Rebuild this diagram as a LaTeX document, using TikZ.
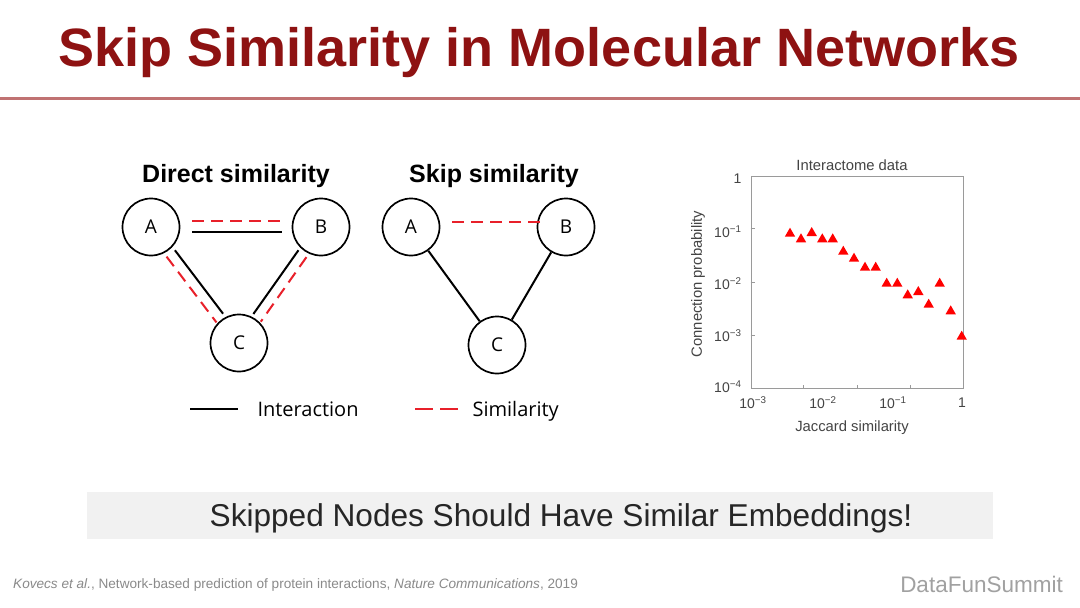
\documentclass[tikz,border=0pt]{standalone}
\usepackage{fontspec}
\setmainfont{Liberation Sans}
\newfontfamily\osans{Open Sans}
\usetikzlibrary{calc,shapes.geometric}
\definecolor{titlered}{HTML}{8E1212}
\definecolor{rulered}{HTML}{C07272}
\definecolor{simred}{HTML}{E8202A}
\definecolor{bannergray}{HTML}{F1F1F1}
\definecolor{axisgray}{HTML}{9A9A9A}
\definecolor{plottext}{HTML}{444444}
\definecolor{footgray}{HTML}{8A8A8A}
\newcommand{\fs}[1]{\fontsize{#1}{#1}\selectfont}
\tikzset{
  circnode/.style={circle, draw=black, line width=1.7pt, minimum size=57pt, inner sep=0pt, font=\osans\fs{19}},
  inter/.style={draw=black, line width=2pt},
  simil/.style={draw=simred, line width=2pt, dash pattern=on 12pt off 7pt},
  panelhead/.style={font=\bfseries\fs{25}, anchor=base},
  legtext/.style={font=\osans\fs{20}, anchor=base west},
  tri/.style={regular polygon, regular polygon sides=3, fill=red, inner sep=0pt, minimum size=12pt},
  ticklab/.style={font=\fs{14}, text=plottext},
  axlab/.style={font=\fs{14.8}, text=plottext}
}
\begin{document}
\begin{tikzpicture}[x=1pt,y=-1pt]
\useasboundingbox (0,0) rectangle (1080,608);
\fill[white] (0,0) rectangle (1080,608);

% title
\node[font=\bfseries\fs{54}, text=titlered, anchor=base] (title) at (539,66) {Skip Similarity in Molecular Networks};
\draw[rulered, line width=3pt] (0,98) -- (1080,98);

% ---------- Direct similarity ----------
\node[panelhead] (h1) at (236,182) {Direct similarity};
\node[circnode] (A1) at (151,227) {A};
\node[circnode] (B1) at (321,227) {B};
\node[circnode] (C1) at (239,343) {C};

\draw[inter, shorten <=41pt, shorten >=39pt] ($(A1.center)!5pt!-90:(B1.center)$) -- ($(B1.center)!5pt!90:(A1.center)$);
\draw[simil, shorten <=41pt, shorten >=39pt] ($(A1.center)!6pt!90:(B1.center)$) -- ($(B1.center)!6pt!-90:(A1.center)$);

\draw[inter, shorten <=33pt, shorten >=33pt] ($(A1.center)!5pt!90:(C1.center)$) -- ($(C1.center)!5pt!-90:(A1.center)$);
\draw[simil, shorten <=33pt, shorten >=30pt] ($(A1.center)!5.5pt!-90:(C1.center)$) -- ($(C1.center)!5.5pt!90:(A1.center)$);

\draw[inter, shorten <=32pt, shorten >=32pt] ($(B1.center)!5pt!-90:(C1.center)$) -- ($(C1.center)!5pt!90:(B1.center)$);
\draw[simil, shorten <=33pt, shorten >=30pt] ($(B1.center)!5.5pt!90:(C1.center)$) -- ($(C1.center)!5.5pt!-90:(B1.center)$);

% ---------- Skip similarity ----------
\node[panelhead] (h2) at (494,182) {Skip similarity};
\node[circnode] (A2) at (411,227) {A};
\node[circnode] (B2) at (566,227) {B};
\node[circnode] (C2) at (497,345) {C};
\draw[simil, shorten <=41pt, shorten >=26pt] ($(A2.center)!5pt!90:(B2.center)$) -- ($(B2.center)!5pt!-90:(A2.center)$);
\draw[inter] (A2) -- (C2);
\draw[inter] (B2) -- (C2);

% ---------- legend ----------
\node[legtext] (li) at (254,416) {Interaction};
\coordinate (l1) at (190,409);
\draw[inter, shorten >=16pt] (l1) -- (li.west |- l1);
\node[legtext] (ls) at (469,416) {Similarity};
\coordinate (l2) at (415,409);
\draw[simil, dash pattern=on 18pt off 7pt, shorten >=8pt] (l2) -- (ls.west |- l2);

% ---------- plot ----------
\node[axlab, anchor=base] (pt) at (852,170) {Interactome data};
\node[draw=axisgray, line width=1pt, minimum width=212pt, minimum height=212pt, inner sep=0pt] (box) at (857,282) {};
\begin{scope}[axisgray, line width=0.8pt]
  \foreach \i in {1,2,3} {
    \draw ($(box.south west)!\i/4!(box.south east)$) -- ++(0,-4);
    \draw ($(box.south west)!\i/4!(box.north west)$) -- ++(4,0);
  }
\end{scope}
% y tick labels
\node[ticklab, anchor=east] (y0) at (745,179) {1};
\node[ticklab, anchor=east] (y1) at (745,232) {10\textsuperscript{−1}};
\node[ticklab, anchor=east] (y2) at (745,284) {10\textsuperscript{−2}};
\node[ticklab, anchor=east] (y3) at (745,336) {10\textsuperscript{−3}};
\node[ticklab, anchor=east] (y4) at (745,387) {10\textsuperscript{−4}};
% x tick labels
\node[ticklab] (x3) at (753,403) {10\textsuperscript{−3}};
\node[ticklab] (x2) at (823,403) {10\textsuperscript{−2}};
\node[ticklab] (x1) at (893,403) {10\textsuperscript{−1}};
\node[ticklab] (x0) at (962,403) {1};
\node[axlab, anchor=base] (xl) at (852,431) {Jaccard similarity};
\node[axlab, rotate=90] (yl) at (698,284) {Connection probability};
% data
\foreach \px/\py [count=\k] in {790/232.7, 801/238.3, 811.7/232, 822.3/238.3, 832.7/238.3, 843.3/250.7, 854/257.7, 865/266.7, 875.7/266.7, 886.7/282.7, 897.3/282.7, 907.7/294.3, 918.3/291, 928.7/303.7, 939.7/282.7, 950.7/310.3, 961.7/335.7}
  \node[tri] (d\k) at (\px,\py+1) {};

% ---------- banner ----------
\node[fill=bannergray, minimum width=906pt, minimum height=47pt, inner sep=0pt] (banner) at (540,515.5) {};
\node[font=\fs{31.6}, text=black!85, anchor=base] (btext) at (561,526) {Skipped Nodes Should Have Similar Embeddings!};

% ---------- footer ----------
\node[font=\fs{13.6}, text=footgray, anchor=base west, inner sep=0pt] (cite) at (13,588) {\textit{Kovecs et al.}, Network-based prediction of protein interactions, \textit{Nature Communications}, 2019};
\node[font=\fs{22.5}, text=footgray!80, anchor=base east, inner sep=0pt] (brand) at (1063,592) {DataFunSummit};
\end{tikzpicture}
\end{document}
